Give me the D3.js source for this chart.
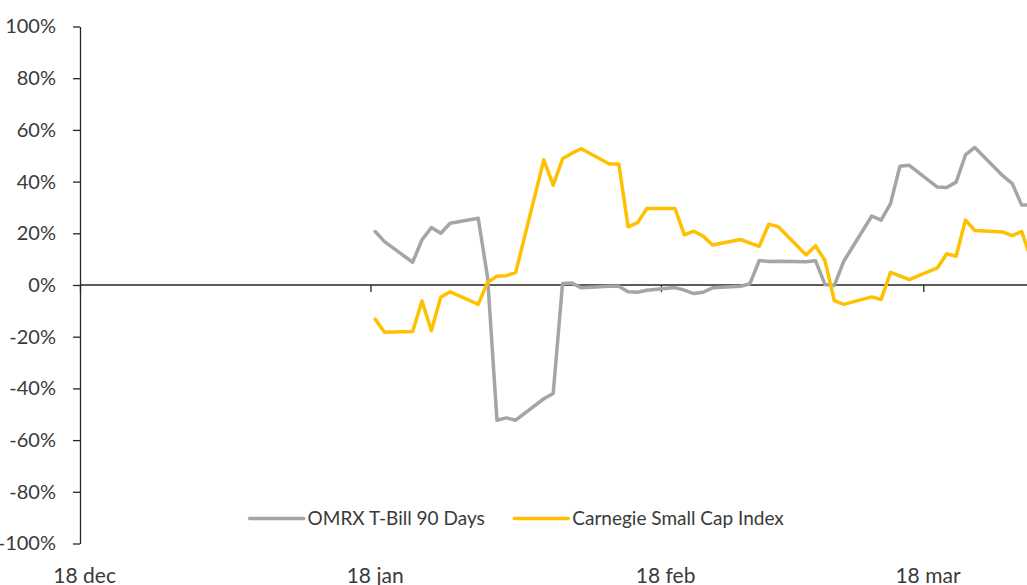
<!DOCTYPE html>
<html>
<head>
<meta charset="utf-8">
<script src="https://cdnjs.cloudflare.com/ajax/libs/d3/7.8.5/d3.min.js"></script>
<style>
  body { margin: 0; background: #fff; }
  svg { display: block; font-family: Lato, "Open Sans", sans-serif; }
</style>
</head>
<body>
<div class="chart"></div>
<script>
// trading days shown in the chart
var dates = [
  "2018-01-18", "2018-01-19", "2018-01-22", "2018-01-23", "2018-01-24", "2018-01-25", "2018-01-26",
  "2018-01-29", "2018-01-30", "2018-01-31", "2018-02-01", "2018-02-02",
  "2018-02-05", "2018-02-06", "2018-02-07", "2018-02-08", "2018-02-09",
  "2018-02-12", "2018-02-13", "2018-02-14", "2018-02-15", "2018-02-16",
  "2018-02-19", "2018-02-20", "2018-02-21", "2018-02-22", "2018-02-23",
  "2018-02-26", "2018-02-27", "2018-02-28", "2018-03-01", "2018-03-02",
  "2018-03-05", "2018-03-06", "2018-03-07", "2018-03-08", "2018-03-09",
  "2018-03-12", "2018-03-13", "2018-03-14", "2018-03-15", "2018-03-16",
  "2018-03-19", "2018-03-20", "2018-03-21", "2018-03-22", "2018-03-23",
  "2018-03-26", "2018-03-27", "2018-03-28", "2018-03-29"
];

// OMRX T-Bill 90 Days (%)
var omrx = [
  20.7, 16.8, 8.8, 17.5, 22.2, 20.0, 23.9,
  25.8, 2.9, -52.3, -51.4, -52.3,
  -44.0, -42.0, 0.6, 0.8, -1.1,
  -0.5, -0.5, -2.6, -2.8, -2.0,
  -1.0, -2.0, -3.3, -2.8, -1.1,
  -0.5, 0.5, 9.5, 9.1, 9.2,
  9.0, 9.4, 0.2, -0.2, 9.1,
  26.7, 25.1, 31.5, 45.9, 46.3,
  37.9, 37.7, 39.8, 50.3, 53.2,
  42.2, 39.2, 30.9, 31.0
];

// Carnegie Small Cap Index (%)
var carnegie = [
  -13.2, -18.3, -18.0, -6.2, -17.7, -4.7, -2.6,
  -7.5, 1.1, 3.4, 3.6, 4.9,
  48.4, 38.6, 48.8, 51.0, 52.7,
  46.8, 46.8, 22.5, 24.1, 29.6,
  29.6, 19.4, 20.8, 18.9, 15.5,
  17.6, 16.2, 15.0, 23.5, 22.6,
  11.6, 15.2, 9.5, -6.0, -7.5,
  -4.6, -5.6, 4.9, 3.5, 2.1,
  6.6, 12.1, 11.1, 25.1, 21.1,
  20.5, 19.1, 20.7, 10.0
];

var seriesNames = ["OMRX T-Bill 90 Days", "Carnegie Small Cap Index"];
var seriesColors = ["#a5a5a5", "#ffc000"];

var yTicks = [-100, -80, -60, -40, -20, 0, 20, 40, 60, 80, 100];
var xTicks = ["2017-12-18", "2018-01-18", "2018-02-18", "2018-03-18"];
var xTickLabels = ["18 dec", "18 jan", "18 feb", "18 mar"];

var svgWidth = 1027;
var svgHeight = 585;
var axisLeftX = 80;

var parseDate = d3.utcParse("%Y-%m-%d");
var halfDay = 12 * 3600 * 1000;

var svg = d3.select(".chart")
  .append("svg")
  .attr("width", svgWidth)
  .attr("height", svgHeight);

// time scale, the plot runs on past the right edge of the picture
var xScale = d3.scaleUtc()
  .domain([parseDate(xTicks[0]), parseDate(xTicks[3])])
  .range([axisLeftX, 923.3]);

var yScale = d3.scaleLinear()
  .domain([-100, 100])
  .range([543.5, 26.5]);

// y axis
var yAxis = d3.axisLeft(yScale)
  .tickValues(yTicks)
  .tickSize(7)
  .tickSizeOuter(0)
  .tickFormat(d => d + "%");

var yAxisGroup = svg.append("g")
  .attr("transform", `translate(${axisLeftX}, 0)`)
  .call(yAxis);

yAxisGroup.select(".domain").attr("stroke", "#262626").attr("stroke-width", 1.3);
yAxisGroup.selectAll(".tick line").attr("stroke", "#262626").attr("stroke-width", 1.3);
yAxisGroup.selectAll(".tick text")
  .attr("x", -24)
  .attr("font-size", "20px")
  .attr("font-family", "Lato, sans-serif")
  .attr("fill", "#3a3a3a");

// zero line with date ticks
var xAxis = d3.axisBottom(xScale)
  .tickValues(xTicks.map(parseDate))
  .tickSize(7)
  .tickFormat("");

var xAxisGroup = svg.append("g")
  .attr("transform", `translate(0, ${yScale(0)})`)
  .call(xAxis);

xAxisGroup.select(".domain").remove();
xAxisGroup.selectAll(".tick line").attr("stroke", "#262626").attr("stroke-width", 1.3);

svg.append("line")
  .attr("x1", axisLeftX)
  .attr("x2", svgWidth)
  .attr("y1", yScale(0))
  .attr("y2", yScale(0))
  .attr("stroke", "#262626")
  .attr("stroke-width", 1.3);

// date labels sit at the bottom of the chart
svg.append("g")
  .selectAll("text")
  .data(xTicks)
  .enter()
  .append("text")
  .attr("x", d => xScale(new Date(parseDate(d).getTime() + halfDay)))
  .attr("y", 583)
  .attr("text-anchor", "middle")
  .attr("font-size", "21px")
  .attr("fill", "#3a3a3a")
  .text((d, i) => xTickLabels[i]);

// series lines
var seriesData = [omrx, carnegie].map(values =>
  values.map((v, i) => ({ date: new Date(parseDate(dates[i]).getTime() + halfDay), value: v }))
);

var line = d3.line()
  .x(d => xScale(d.date))
  .y(d => yScale(d.value));

svg.append("g")
  .selectAll("path")
  .data(seriesData)
  .enter()
  .append("path")
  .attr("d", line)
  .attr("fill", "none")
  .attr("stroke", (d, i) => seriesColors[i])
  .attr("stroke-width", 3.5)
  .attr("stroke-linejoin", "round")
  .attr("stroke-linecap", "round");

// legend
var legendX = [249.6, 514.3];
var legendY = 518.6;

var legend = svg.append("g")
  .selectAll("g")
  .data(seriesNames)
  .enter()
  .append("g")
  .attr("transform", (d, i) => `translate(${legendX[i]}, ${legendY})`);

legend.append("line")
  .attr("x1", 0)
  .attr("x2", 54)
  .attr("stroke", (d, i) => seriesColors[i])
  .attr("stroke-width", 3.5)
  .attr("stroke-linecap", "round");

legend.append("text")
  .attr("x", 58)
  .attr("y", 0)
  .attr("dy", "0.35em")
  .attr("font-size", "19px")
  .attr("fill", "#3a3a3a")
  .text(d => d);
</script>
</body>
</html>
